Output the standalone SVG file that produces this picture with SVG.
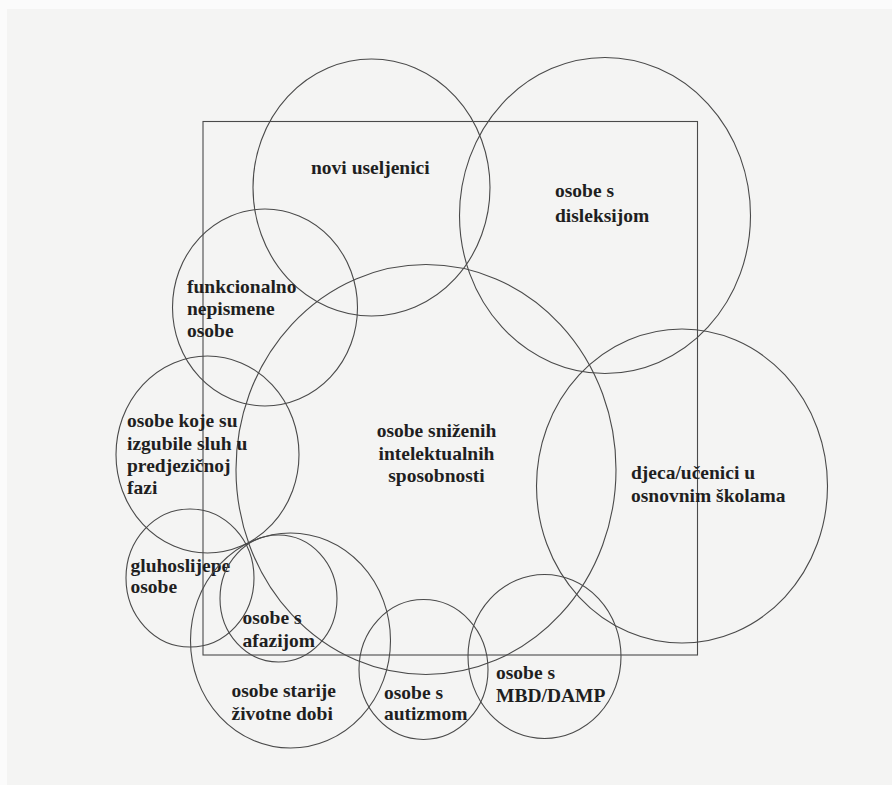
<svg xmlns="http://www.w3.org/2000/svg" width="892" height="785" viewBox="0 0 892 785">
<style>
.c{fill:none;stroke:#4a4a4a;stroke-width:1.1}
.t{font-family:"Liberation Serif","Times New Roman",serif;font-weight:bold;font-size:19.5px;fill:#1f1f1f}
.m{text-anchor:middle}
</style>
<rect x="0" y="0" width="892" height="785" fill="#fbfbfb"/>
<rect x="7" y="9" width="885" height="776" fill="#f4f4f3"/>
<g id="frame"><rect class="c" x="203" y="121.5" width="494.5" height="533.5"/></g>
<g id="connectors"></g>
<g id="novi"><ellipse class="c" cx="371.5" cy="187.5" rx="118.5" ry="128.5"/><text class="t" x="311" y="174">novi useljenici</text></g>
<g id="disleksija"><ellipse class="c" cx="605" cy="215.5" rx="145.5" ry="158"/><text class="t"><tspan x="555" y="197">osobe s</tspan><tspan x="555" y="222">disleksijom</tspan></text></g>
<g id="funkcionalno"><ellipse class="c" cx="265" cy="307.5" rx="92.5" ry="98.5"/><text class="t"><tspan x="187" y="292.5">funkcionalno</tspan><tspan x="187" y="315">nepismene</tspan><tspan x="187" y="337">osobe</tspan></text></g>
<g id="snizeni"><ellipse class="c" cx="426" cy="469.5" rx="190" ry="205"/><text class="t m"><tspan x="436.5" y="436.5">osobe sniženih</tspan><tspan x="436.5" y="459.5">intelektualnih</tspan><tspan x="436.5" y="481.5">sposobnosti</tspan></text></g>
<g id="sluh"><ellipse class="c" cx="207.5" cy="454.5" rx="91.5" ry="98.5"/><text class="t"><tspan x="127" y="427">osobe koje su</tspan><tspan x="127" y="450">izgubile sluh u</tspan><tspan x="127" y="472">predjezičnoj</tspan><tspan x="127" y="494">fazi</tspan></text></g>
<g id="gluhoslijepe"><ellipse class="c" cx="190" cy="578" rx="64" ry="69"/><text class="t"><tspan x="130.5" y="571.5">gluhoslijepe</tspan><tspan x="130.5" y="592.5">osobe</tspan></text></g>
<g id="afazija"><ellipse class="c" cx="278.5" cy="598.5" rx="58.5" ry="63.5"/><text class="t"><tspan x="242.5" y="624">osobe s</tspan><tspan x="242.5" y="647">afazijom</tspan></text></g>
<g id="starije"><ellipse class="c" cx="290.5" cy="640.5" rx="100" ry="107.5"/><text class="t"><tspan x="231.5" y="697">osobe starije</tspan><tspan x="231.5" y="720">životne dobi</tspan></text></g>
<g id="autizam"><ellipse class="c" cx="423.5" cy="669.5" rx="64.5" ry="70"/><text class="t"><tspan x="384" y="699">osobe s</tspan><tspan x="384" y="720">autizmom</tspan></text></g>
<g id="mbd"><ellipse class="c" cx="544.5" cy="656.5" rx="76.5" ry="82"/><text class="t"><tspan x="496" y="678.5">osobe s</tspan><tspan x="496" y="702">MBD/DAMP</tspan></text></g>
<g id="djeca"><ellipse class="c" cx="682" cy="486" rx="145.5" ry="157"/><text class="t"><tspan x="631" y="479">djeca/učenici u</tspan><tspan x="631" y="502">osnovnim školama</tspan></text></g>
</svg>
